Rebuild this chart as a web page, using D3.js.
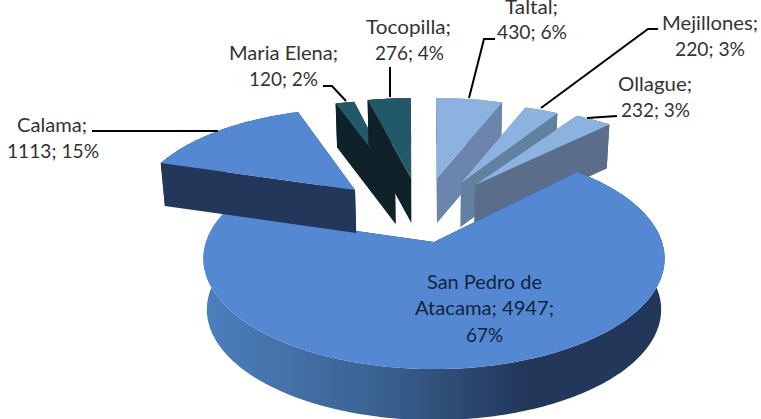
<!DOCTYPE html>
<html><head><meta charset="utf-8">
<script src="https://cdn.jsdelivr.net/npm/d3@7"></script>
<style>html,body{margin:0;padding:0;background:#fff;overflow:hidden}svg{display:block}</style>
</head><body><svg id="c" width="761" height="419"></svg>
<script>
const categories = ["San Pedro de Atacama","Calama","Maria Elena","Tocopilla","Taltal","Mejillones","Ollague"];
const values = [4947,1113,120,276,430,220,232];
const topColors = ["#5588d3","#5588d3","#215968","#215968","#8cb2e0","#8cb2e0","#8cb2e0"];
const wallColors = ["#22375a","#22375a","#0f2229","#0f2229","#6b85ad","#62809f","#5a6e8b"];
const startDeg = 44;

// layout of the exploded slices: apex on screen, radii, perspective, wall depth, small view rotation
const layout = [
 {ax:434,ay:242,R:228,Q:108,p:.15,d:51,rot:0},
 {ax:355,ay:190,R:216,Q:100,p:.227,d:43,rot:0},
 {ax:395,ay:180,R:225,Q:98,p:.227,d:44,rot:0},
 {ax:411,ay:178,R:225,Q:98,p:.227,d:45,rot:-0.8},
 {ax:437,ay:178,R:222,Q:98,p:.227,d:45,rot:-1},
 {ax:461,ay:183,R:218,Q:98,p:.227,d:44,rot:-0.8},
 {ax:475,ay:185,R:225,Q:98,p:.227,d:44,rot:0}
];
const drawOrder = [2,3,4,5,6,0,1];
const taper = 0.985, vanishX = 434;

const labels = [
 {lines:[["San Pedro de",115,484.5,289],["Atacama; {v};",139,484.5,315],["{p}%",37,484.5,342]],fill:"#12233d"},
 {lines:[["Calama;",70,52,132],["{v}; {p}%",92,53,158]],fill:"#333",lead:[[92,131],[218,131]]},
 {lines:[["Maria Elena;",109,283.5,60],["{v}; {p}%",69,283.5,86]],fill:"#333",lead:[[323,86],[332,86],[346,101]]},
 {lines:[["Tocopilla;",85,408.5,34],["{v}; {p}%",69,409.5,60]],fill:"#333",lead:[[390,67],[390,97]]},
 {lines:[["Taltal;",53,531.5,14],["{v}; {p}%",70,532,39]],fill:"#333",lead:[[495,39],[484,39],[469,98]]},
 {lines:[["Mejillones;",96,710,30],["{v}; {p}%",70,710,56]],fill:"#333",lead:[[658,29],[648,29],[541,108]]},
 {lines:[["Ollague;",74,655,91],["{v}; {p}%",69,655.5,117]],fill:"#333",lead:[[617,116],[587,118]]}
];

const svg = d3.select("#c");
const total = d3.sum(values);
const rad = Math.PI/180;
const arcs = d3.pie().sort(null).startAngle(startDeg*rad).endAngle(startDeg*rad+2*Math.PI)(values);
const line = d3.line();

const grad = svg.append("defs").append("linearGradient").attr("id","wall")
  .attr("gradientUnits","userSpaceOnUse").attr("x1",205).attr("x2",525).attr("y1",0).attr("y2",0);
grad.append("stop").attr("offset",0).attr("stop-color","#4c7fbc");
grad.append("stop").attr("offset",.55).attr("stop-color","#3a6191");
grad.append("stop").attr("offset",1).attr("stop-color","#22375a");

function project(l,theta,r){
  const x=Math.sin(theta)*r, y=Math.cos(theta)*r, w=1+l.p*y;
  return [l.ax+l.R*x/w, l.ay-l.Q*y/w];
}
const down=(pt,d)=>[vanishX+(pt[0]-vanishX)*taper,pt[1]+d];

drawOrder.forEach(i=>{
  const a=arcs[i], l=layout[i];
  const n=Math.max(8,Math.ceil((a.endAngle-a.startAngle)/rad));
  const s=a.startAngle+l.rot*rad, span=a.endAngle-a.startAngle;
  const rim=d3.range(n+1).map(k=>project(l,s+span*k/n,1));
  const apex=[l.ax,l.ay];
  const g=svg.append("g").attr("class","slice").attr("data-name",categories[i]);
  const wall=i===0?"url(#wall)":wallColors[i];
  g.append("path").attr("d",line(rim.concat(rim.slice().reverse().map(p=>down(p,l.d))))+"Z").attr("fill",wall);
  [rim[0],rim[n]].forEach(c=>{
    g.append("path").attr("d",line([apex,c,down(c,l.d),down(apex,l.d)])+"Z").attr("fill",wallColors[i]);
  });
  g.append("path").attr("d",line([apex].concat(rim))+"Z").attr("fill",topColors[i]);
});

labels.forEach((lb,i)=>{
  const pct=Math.round(values[i]/total*100);
  if(lb.lead) svg.append("path").attr("d",line(lb.lead)).attr("fill","none").attr("stroke","#000").attr("stroke-width",2);
  lb.lines.forEach(([t,w,x,y])=>{
    svg.append("text").attr("x",x).attr("y",y).attr("text-anchor","middle")
      .attr("font-family","Lato, 'Open Sans', sans-serif").attr("font-size",20).attr("fill",lb.fill)
      .attr("textLength",w).attr("lengthAdjust","spacingAndGlyphs")
      .text(t.replace("{v}",values[i]).replace("{p}",pct));
  });
});
</script></body></html>
